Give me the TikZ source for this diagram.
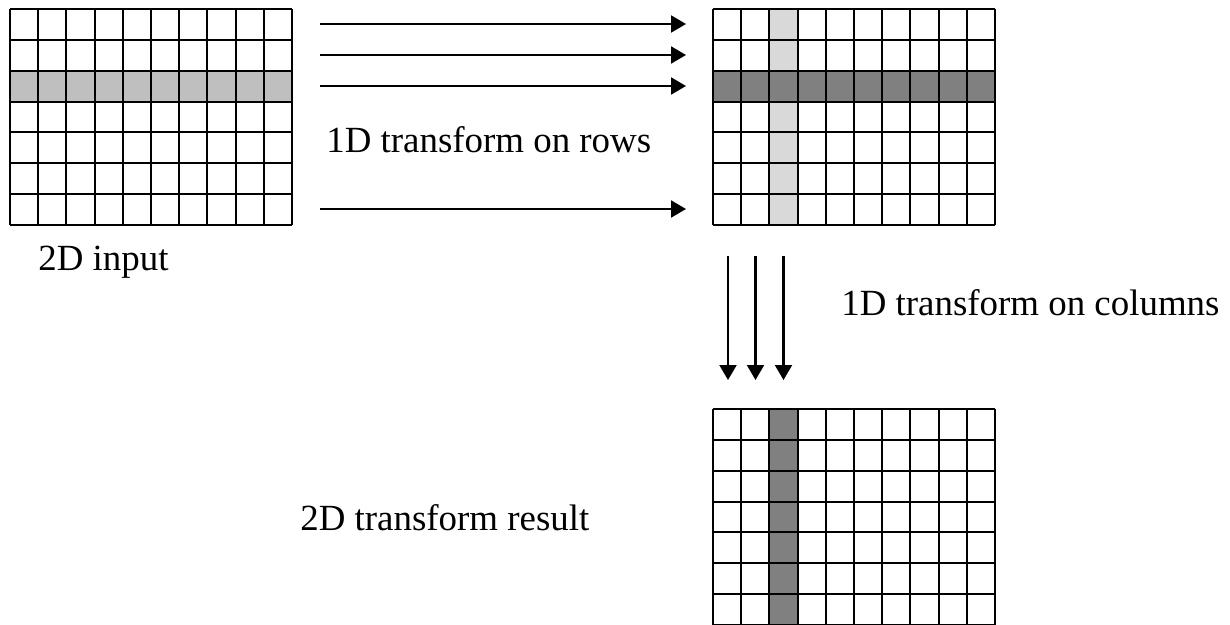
\documentclass[tikz,border=0pt]{standalone}
\usepackage{fontspec}
\setmainfont{Liberation Serif}
\usetikzlibrary{arrows.meta}
\tikzset{
  cell/.style={draw=black, line width=1.1pt},
  flow/.style={line width=1.2pt, -{Triangle[length=0.3cm, width=0.34cm]}},
  lbl/.style={font=\fontsize{21}{25}\selectfont, anchor=west, inner sep=0pt}
}
\begin{document}
\begin{tikzpicture}[x=0.02cm, y=-0.02cm]
\useasboundingbox (0,0) rectangle (1230,625);

\fill[black!25] (10,70.7) rectangle (292,101.6);
\fill[black!15] (769.4,9) rectangle (797.6,225);
\fill[black!50] (713,70.7) rectangle (995,101.6);
\fill[black!50] (769.4,409) rectangle (797.6,625);

\foreach \gx/\gy in {10/9, 713/9, 713/409} {
  \foreach \i in {0,...,10} \draw[cell] (\gx+\i*28.2,\gy) -- ++(0,216);
  \foreach \j in {0,...,7} \draw[cell] (\gx,\gy+\j*30.86) -- ++(282,0);
}

\foreach \r [count=\k] in {24,55,86,209} {
  \coordinate (rs\k) at (320,\r);
  \coordinate (re\k) at (686,\r);
  \draw[flow] (rs\k) -- (re\k);
}
\foreach \c [count=\k] in {728,755.5,783.5} {
  \coordinate (cs\k) at (\c,256);
  \coordinate (ce\k) at (\c,380);
  \draw[flow] (cs\k) -- (ce\k);
}

\node[lbl] (rowlbl) at (326,140) {1D transform on rows};
\node[lbl] (inlbl)  at (38,262)  {2D input};
\node[lbl] (collbl) at (841,303) {1D transform on columns};
\node[lbl] (outlbl) at (300,518) {2D transform result};
\end{tikzpicture}
\end{document}
